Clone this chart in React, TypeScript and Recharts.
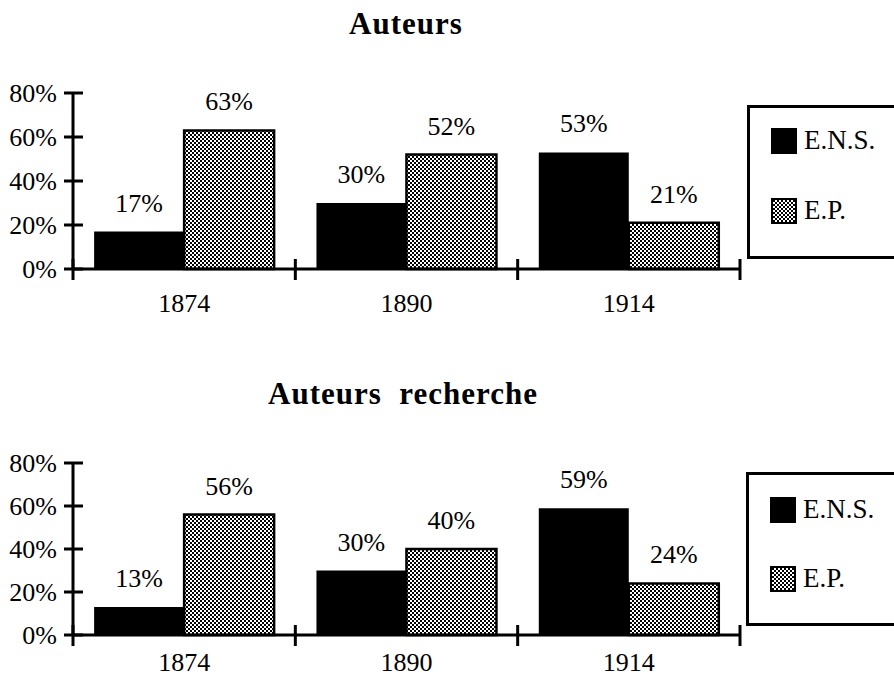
import React from 'react';
import { BarChart, Bar, XAxis, YAxis, Legend, LabelList } from 'recharts';

const years = ['1874', '1890', '1914'];
const auteursENS = [17, 30, 53];
const auteursEP = [63, 52, 21];
const rechercheENS = [13, 30, 59];
const rechercheEP = [56, 40, 24];
const yTicks = [0, 20, 40, 60, 80];
const seriesNames = ['E.N.S.', 'E.P.'];
const titles = ['Auteurs', 'Auteurs  recherche'];

const FONT = "'Liberation Serif', 'Times New Roman', serif";
const svgText: React.CSSProperties = { fontFamily: FONT, fontSize: 26 };

const buildRows = (ens: number[], ep: number[]) =>
  years.map((y, i) => ({ year: y, ens: ens[i], ep: ep[i] }));

const PatternDef = ({ id }: { id: string }) => (
  <pattern id={id} patternUnits="userSpaceOnUse" width={4} height={4}>
    <rect x={0} y={0} width={4} height={4} fill="#fff" />
    <rect x={0} y={0} width={2} height={2} fill="#000" />
    <rect x={2} y={2} width={2} height={2} fill="#000" />
  </pattern>
);

const YTick = (props: any) => {
  const { x, y, payload } = props;
  return (
    <g>
      <line x1={x - 9} x2={x + 10} y1={y} y2={y} stroke="#000" strokeWidth={3} />
      <text x={x - 16} y={y} dy="0.35em" textAnchor="end" style={svgText} fill="#000">
        {payload.value}%
      </text>
    </g>
  );
};

const makeXTick = (labelGap: number) => (props: any) => {
  const { x, y, payload, width, visibleTicksCount } = props;
  const half =
    typeof payload.offset === 'number' && payload.offset > 0
      ? payload.offset
      : width / (visibleTicksCount || years.length) / 2;
  return (
    <g>
      {payload.index === 0 && (
        <line x1={x - half} x2={x - half} y1={y - 10} y2={y + 11} stroke="#000" strokeWidth={3} />
      )}
      <line x1={x + half} x2={x + half} y1={y - 10} y2={y + 11} stroke="#000" strokeWidth={3} />
      <text x={x} y={y + labelGap} dy="0.35em" textAnchor="middle" style={svgText} fill="#000">
        {payload.value}
      </text>
    </g>
  );
};

const renderLabel = (props: any) => {
  const { x, y, width, value } = props;
  return (
    <text x={x + width / 2} y={y - 20} textAnchor="middle" style={svgText} fill="#000">
      {value}%
    </text>
  );
};

const LegendBox = ({ patId, itemTops }: { patId: string; itemTops: number[] }) => (
  <div
    style={{
      width: 160,
      height: 154,
      border: '3px solid #000',
      boxSizing: 'border-box',
      position: 'relative',
      background: '#fff',
      fontFamily: FONT,
    }}
  >
    {seriesNames.map((name, i) => (
      <div
        key={name}
        style={{ position: 'absolute', left: 21, top: itemTops[i], display: 'flex', alignItems: 'center' }}
      >
        <svg width={26} height={26} style={{ display: 'block' }}>
          <defs>
            <PatternDef id={patId + '-legend'} />
          </defs>
          <rect
            x={1}
            y={1}
            width={24}
            height={24}
            fill={i === 0 ? '#000' : `url(#${patId}-legend)`}
            stroke="#000"
            strokeWidth={2}
          />
        </svg>
        <span style={{ marginLeft: 7, fontSize: 27, lineHeight: '27px', color: '#000' }}>{name}</span>
      </div>
    ))}
  </div>
);

type PanelProps = {
  title: string;
  ens: number[];
  ep: number[];
  patId: string;
  top: number;
  height: number;
  marginTop: number;
  marginBottom: number;
  titleTop: number;
  titleWidth: number;
  legendTop: number;
  legendLeft: number;
  itemTops: number[];
  labelGap: number;
};

const Panel = (p: PanelProps) => {
  const rows = buildRows(p.ens, p.ep);
  const XTick = makeXTick(p.labelGap);
  return (
    <div style={{ position: 'absolute', left: 0, top: p.top, width: 894, height: p.height }}>
      <div
        style={{
          position: 'absolute',
          left: 0,
          top: p.titleTop,
          width: p.titleWidth,
          textAlign: 'center',
          fontFamily: FONT,
          fontWeight: 'bold',
          fontSize: 31,
          lineHeight: '31px',
          letterSpacing: 1,
          whiteSpace: 'pre',
          color: '#000',
        }}
      >
        {p.title}
      </div>
      <BarChart
        width={894}
        height={p.height}
        data={rows}
        margin={{ top: p.marginTop, right: 154, bottom: p.marginBottom, left: 0 }}
        barCategoryGap="9.5%"
        barGap={0}
      >
        <defs>
          <PatternDef id={p.patId} />
        </defs>
        <XAxis
          dataKey="year"
          type="category"
          interval={0}
          height={40}
          tickSize={0}
          tickMargin={0}
          tickLine={false}
          axisLine={{ stroke: '#000', strokeWidth: 3 }}
          tick={<XTick />}
        />
        <YAxis
          domain={[0, 80]}
          ticks={yTicks}
          interval={0}
          width={73}
          tickSize={0}
          tickMargin={0}
          tickLine={false}
          axisLine={{ stroke: '#000', strokeWidth: 3 }}
          tick={<YTick />}
        />
        <Legend
          layout="vertical"
          align="center"
          verticalAlign="middle"
          wrapperStyle={{ left: p.legendLeft, top: p.legendTop, width: 160 }}
          content={() => <LegendBox patId={p.patId} itemTops={p.itemTops} />}
        />
        <Bar dataKey="ens" name={seriesNames[0]} fill="#000" isAnimationActive={false}>
          <LabelList dataKey="ens" content={renderLabel} />
        </Bar>
        <Bar
          dataKey="ep"
          name={seriesNames[1]}
          fill={`url(#${p.patId})`}
          stroke="#000"
          strokeWidth={2.5}
          isAnimationActive={false}
        >
          <LabelList dataKey="ep" content={renderLabel} />
        </Bar>
      </BarChart>
    </div>
  );
};

export default function App() {
  return (
    <div
      style={{
        position: 'absolute',
        left: 0,
        top: 0,
        width: 894,
        height: 679,
        overflow: 'hidden',
        background: '#fff',
      }}
    >
      <Panel
        title={titles[0]}
        ens={auteursENS}
        ep={auteursEP}
        patId="patA"
        top={0}
        height={330}
        marginTop={93}
        marginBottom={21}
        titleTop={8}
        titleWidth={812}
        legendTop={105}
        legendLeft={747}
        itemTops={[19, 89]}
        labelGap={34}
      />
      <Panel
        title={titles[1]}
        ens={rechercheENS}
        ep={rechercheEP}
        patId="patB"
        top={340}
        height={339}
        marginTop={123}
        marginBottom={4}
        titleTop={38}
        titleWidth={806}
        legendTop={132}
        legendLeft={746}
        itemTops={[21, 90]}
        labelGap={27}
      />
    </div>
  );
}
